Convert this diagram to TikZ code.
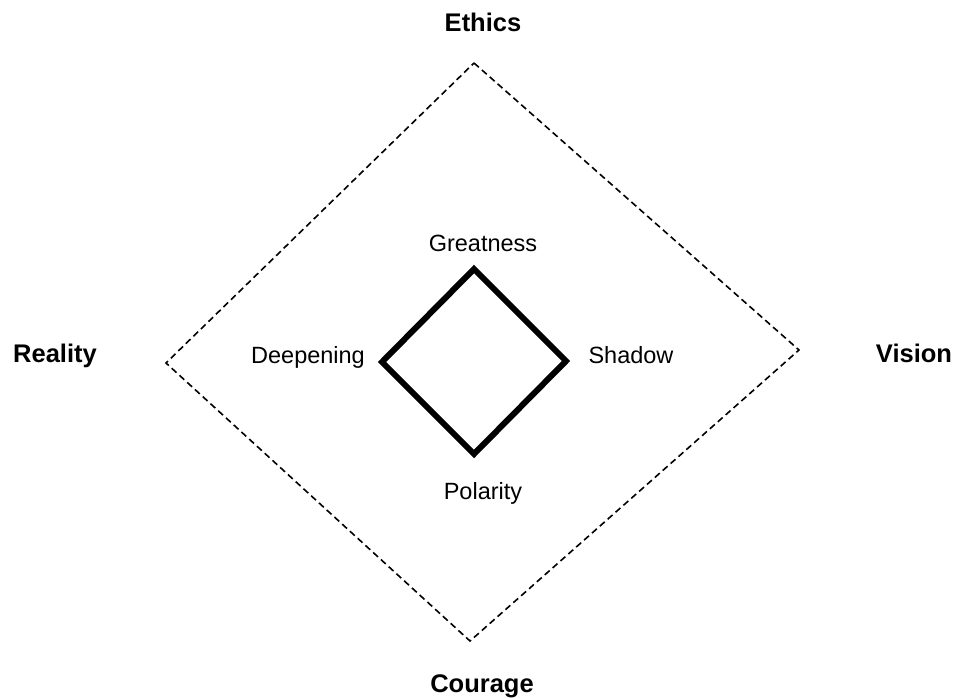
\documentclass[tikz,border=0pt]{standalone}
\usepackage{fontspec}
\setmainfont{Liberation Sans}
\begin{document}
\begin{tikzpicture}[x=1pt,y=-1pt,
  outer/.style={draw=black,line width=1.6pt,dash pattern=on 6.5pt off 4pt},
  inner/.style={draw=black,line width=6pt,line join=miter},
  corner/.style={inner sep=0pt,anchor=base,font=\fontsize{25.5}{30}\selectfont\bfseries},
  pole/.style={inner sep=0pt,anchor=base,font=\fontsize{23.5}{28}\selectfont}]
  \useasboundingbox[fill=white] (0,0) rectangle (956,698);

  % outer dashed square
  \coordinate (ot) at (474,63);
  \coordinate (or) at (799,350);
  \coordinate (ob) at (470,641);
  \coordinate (ol) at (166,363);
  \draw[outer] (ot) -- (or) -- (ob) -- (ol) -- cycle;

  % inner thick square
  \coordinate (it) at (474,269);
  \coordinate (ir) at (566,361);
  \coordinate (ib) at (474,454);
  \coordinate (il) at (382,362);
  \draw[inner] (it) -- (ir) -- (ib) -- (il) -- cycle;

  % outer labels
  \node[corner] (ethics)  at (483,32)  {Ethics};
  \node[corner] (courage) at (482,692) {Courage};
  \node[corner] (reality) at (55,362)  {Reality};
  \node[corner] (vision)  at (914,362) {Vision};

  % inner labels
  \node[pole] (greatness) at (483,251) {Greatness};
  \node[pole] (polarity)  at (483,499) {Polarity};
  \node[pole] (deepening) at (308,363) {Deepening};
  \node[pole] (shadow)    at (631,363) {Shadow};
\end{tikzpicture}
\end{document}
